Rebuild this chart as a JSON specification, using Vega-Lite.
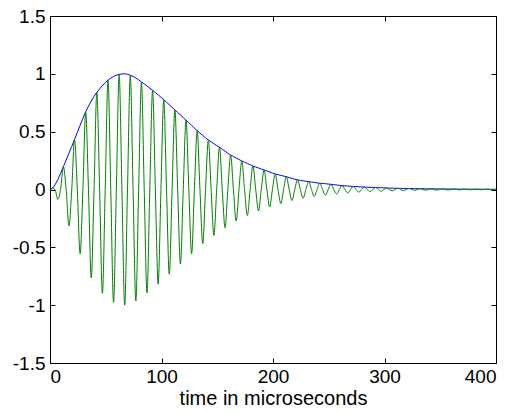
{
  "$schema": "https://vega.github.io/schema/vega-lite/v6.json",
  "width": 446,
  "height": 347,
  "autosize": "none",
  "padding": {"left": 50, "top": 16, "right": 16, "bottom": 49},
  "background": "white",
  "data": {"values": [
    {"t":0,"env":0,"sig":0},
    {"t":2,"env":0.01,"sig":0.01},{"t":4.5,"env":0.04,"sig":0},{"t":7,"env":0.085,"sig":-0.085},{"t":9.5,"env":0.14,"sig":0},
    {"t":12,"env":0.197,"sig":0.197},{"t":14.5,"env":0.255,"sig":0},{"t":17,"env":0.315,"sig":-0.315},{"t":19.5,"env":0.372,"sig":0},
    {"t":22,"env":0.432,"sig":0.432},{"t":24.5,"env":0.493,"sig":0},{"t":27,"env":0.555,"sig":-0.555},{"t":29.5,"env":0.615,"sig":0},
    {"t":32,"env":0.672,"sig":0.672},{"t":34.5,"env":0.72,"sig":0},{"t":37,"env":0.765,"sig":-0.765},{"t":39.5,"env":0.805,"sig":0},
    {"t":42,"env":0.84,"sig":0.84},{"t":44.5,"env":0.87,"sig":0},{"t":47,"env":0.898,"sig":-0.898},{"t":49.5,"env":0.924,"sig":0},
    {"t":52,"env":0.945,"sig":0.945},{"t":54.5,"env":0.963,"sig":0},{"t":57,"env":0.977,"sig":-0.977},{"t":59.5,"env":0.988,"sig":0},
    {"t":62,"env":0.995,"sig":0.995},{"t":64.5,"env":0.999,"sig":0},{"t":67,"env":1.0,"sig":-1.0},{"t":69.5,"env":0.996,"sig":0},
    {"t":72,"env":0.988,"sig":0.988},{"t":74.5,"env":0.977,"sig":0},{"t":77,"env":0.964,"sig":-0.964},{"t":79.5,"env":0.948,"sig":0},
    {"t":82,"env":0.93,"sig":0.93},{"t":84.5,"env":0.913,"sig":0},{"t":87,"env":0.895,"sig":-0.895},{"t":89.5,"env":0.877,"sig":0},
    {"t":92,"env":0.858,"sig":0.858},{"t":94.5,"env":0.838,"sig":0},{"t":97,"env":0.818,"sig":-0.818},{"t":99.5,"env":0.798,"sig":0},
    {"t":102,"env":0.777,"sig":0.777},{"t":104.5,"env":0.755,"sig":0},{"t":107,"env":0.733,"sig":-0.733},{"t":109.5,"env":0.71,"sig":0},
    {"t":112,"env":0.688,"sig":0.688},{"t":114.5,"env":0.666,"sig":0},{"t":117,"env":0.644,"sig":-0.644},{"t":119.5,"env":0.622,"sig":0},
    {"t":122,"env":0.6,"sig":0.6},{"t":124.5,"env":0.577,"sig":0},{"t":127,"env":0.554,"sig":-0.554},{"t":129.5,"env":0.531,"sig":0},
    {"t":132,"env":0.509,"sig":0.509},{"t":134.5,"env":0.488,"sig":0},{"t":137,"env":0.467,"sig":-0.467},{"t":139.5,"env":0.447,"sig":0},
    {"t":142,"env":0.428,"sig":0.428},{"t":144.5,"env":0.412,"sig":0},{"t":147,"env":0.396,"sig":-0.396},{"t":149.5,"env":0.38,"sig":0},
    {"t":152,"env":0.365,"sig":0.365},{"t":154.5,"env":0.348,"sig":0},{"t":157,"env":0.331,"sig":-0.331},{"t":159.5,"env":0.314,"sig":0},
    {"t":162,"env":0.298,"sig":0.298},{"t":164.5,"env":0.285,"sig":0},{"t":167,"env":0.272,"sig":-0.272},{"t":169.5,"env":0.259,"sig":0},
    {"t":172,"env":0.247,"sig":0.247},{"t":174.5,"env":0.236,"sig":0},{"t":177,"env":0.225,"sig":-0.225},{"t":179.5,"env":0.214,"sig":0},
    {"t":182,"env":0.203,"sig":0.203},{"t":184.5,"env":0.194,"sig":0},{"t":187,"env":0.186,"sig":-0.186},{"t":189.5,"env":0.177,"sig":0},
    {"t":192,"env":0.169,"sig":0.169},{"t":194.5,"env":0.16,"sig":0},{"t":197,"env":0.151,"sig":-0.151},{"t":199.5,"env":0.142,"sig":0},
    {"t":202,"env":0.134,"sig":0.134},{"t":204.5,"env":0.128,"sig":0},{"t":207,"env":0.122,"sig":-0.122},{"t":209.5,"env":0.116,"sig":0},
    {"t":212,"env":0.111,"sig":0.111},{"t":214.5,"env":0.103,"sig":0},{"t":217,"env":0.096,"sig":-0.096},{"t":219.5,"env":0.089,"sig":0},
    {"t":222,"env":0.083,"sig":0.083},{"t":224.5,"env":0.079,"sig":0},{"t":227,"env":0.075,"sig":-0.075},{"t":229.5,"env":0.071,"sig":0},
    {"t":232,"env":0.068,"sig":0.068},{"t":234.5,"env":0.064,"sig":0},{"t":237,"env":0.061,"sig":-0.061},{"t":239.5,"env":0.057,"sig":0},
    {"t":242,"env":0.054,"sig":0.054},{"t":244.5,"env":0.052,"sig":0},{"t":247,"env":0.05,"sig":-0.05},{"t":249.5,"env":0.047,"sig":0},
    {"t":252,"env":0.045,"sig":0.045},{"t":254.5,"env":0.042,"sig":0},{"t":257,"env":0.039,"sig":-0.039},{"t":259.5,"env":0.036,"sig":0},
    {"t":262,"env":0.034,"sig":0.034},{"t":264.5,"env":0.032,"sig":0},{"t":267,"env":0.03,"sig":-0.03},{"t":269.5,"env":0.028,"sig":0},
    {"t":272,"env":0.026,"sig":0.026},{"t":274.5,"env":0.025,"sig":0},{"t":277,"env":0.023,"sig":-0.023},{"t":279.5,"env":0.022,"sig":0},
    {"t":282,"env":0.021,"sig":0.021},{"t":284.5,"env":0.02,"sig":0},{"t":287,"env":0.019,"sig":-0.019},{"t":289.5,"env":0.018,"sig":0},
    {"t":292,"env":0.017,"sig":0.017},{"t":294.5,"env":0.016,"sig":0},{"t":297,"env":0.015,"sig":-0.015},{"t":299.5,"env":0.014,"sig":0},
    {"t":302,"env":0.013,"sig":0.013},{"t":304.5,"env":0.0125,"sig":0},{"t":307,"env":0.012,"sig":-0.012},{"t":309.5,"env":0.011,"sig":0},
    {"t":312,"env":0.0105,"sig":0.0105},{"t":314.5,"env":0.01,"sig":0},{"t":317,"env":0.0095,"sig":-0.0095},{"t":319.5,"env":0.009,"sig":0},
    {"t":322,"env":0.0085,"sig":0.0085},{"t":324.5,"env":0.008,"sig":0},{"t":327,"env":0.0075,"sig":-0.0075},{"t":329.5,"env":0.007,"sig":0},
    {"t":332,"env":0.0068,"sig":0.0068},{"t":334.5,"env":0.0065,"sig":0},{"t":337,"env":0.006,"sig":-0.006},{"t":339.5,"env":0.0058,"sig":0},
    {"t":342,"env":0.0055,"sig":0.0055},{"t":344.5,"env":0.0052,"sig":0},{"t":347,"env":0.005,"sig":-0.005},{"t":349.5,"env":0.0048,"sig":0},
    {"t":352,"env":0.0045,"sig":0.0045},{"t":354.5,"env":0.0043,"sig":0},{"t":357,"env":0.004,"sig":-0.004},{"t":359.5,"env":0.0038,"sig":0},
    {"t":362,"env":0.0036,"sig":0.0036},{"t":364.5,"env":0.0034,"sig":0},{"t":367,"env":0.0032,"sig":-0.0032},{"t":369.5,"env":0.003,"sig":0},
    {"t":372,"env":0.0029,"sig":0.0029},{"t":374.5,"env":0.0028,"sig":0},{"t":377,"env":0.0027,"sig":-0.0027},{"t":379.5,"env":0.0026,"sig":0},
    {"t":382,"env":0.0025,"sig":0.0025},{"t":384.5,"env":0.0024,"sig":0},{"t":387,"env":0.0023,"sig":-0.0023},{"t":389.5,"env":0.0022,"sig":0},
    {"t":392,"env":0.0021,"sig":0.0021},{"t":394.5,"env":0.002,"sig":0},{"t":397,"env":0.0019,"sig":-0.0019},{"t":399.5,"env":0.0018,"sig":0},
    {"t":400,"env":0.0018,"sig":0}
  ]},
  "layer": [
    {
      "mark": {"type": "line", "color": "#0000ff", "strokeWidth": 1, "clip": true},
      "encoding": {
        "x": {"field": "t", "type": "quantitative", "scale": {"domain": [0, 400], "nice": false, "zero": false},
              "axis": {"orient": "bottom", "values": [0, 100, 200, 300, 400], "title": "time in microseconds", "labelPadding": 9, "titlePadding": 2}},
        "y": {"field": "env", "type": "quantitative", "scale": {"domain": [-1.5, 1.5], "nice": false},
              "axis": {"orient": "left", "values": [-1.5, -1, -0.5, 0, 0.5, 1, 1.5], "labelExpr": "datum.value + ''", "title": null, "labelPadding": 10}}
      }
    },
    {
      "mark": {"type": "line", "color": "#008000", "strokeWidth": 1, "interpolate": "monotone", "clip": true},
      "encoding": {
        "x": {"field": "t", "type": "quantitative", "scale": {"domain": [0, 400], "nice": false, "zero": false},
              "axis": {"orient": "top", "values": [0, 100, 200, 300, 400], "labels": false, "title": null}},
        "y": {"field": "sig", "type": "quantitative", "scale": {"domain": [-1.5, 1.5], "nice": false},
              "axis": {"orient": "right", "values": [-1.5, -1, -0.5, 0, 0.5, 1, 1.5], "labels": false, "title": null}}
      }
    }
  ],
  "resolve": {"axis": {"x": "independent", "y": "independent"}},
  "config": {
    "view": {"stroke": null},
    "axis": {
      "grid": false,
      "domainColor": "#000000",
      "domainWidth": 1,
      "tickColor": "#000000",
      "tickWidth": 1,
      "tickSize": -5,
      "labelFont": "Liberation Sans",
      "labelFontSize": 19,
      "labelColor": "#000000",
      "titleFont": "Liberation Sans",
      "titleFontSize": 20,
      "titleFontWeight": "normal",
      "titleColor": "#000000"
    }
  }
}
